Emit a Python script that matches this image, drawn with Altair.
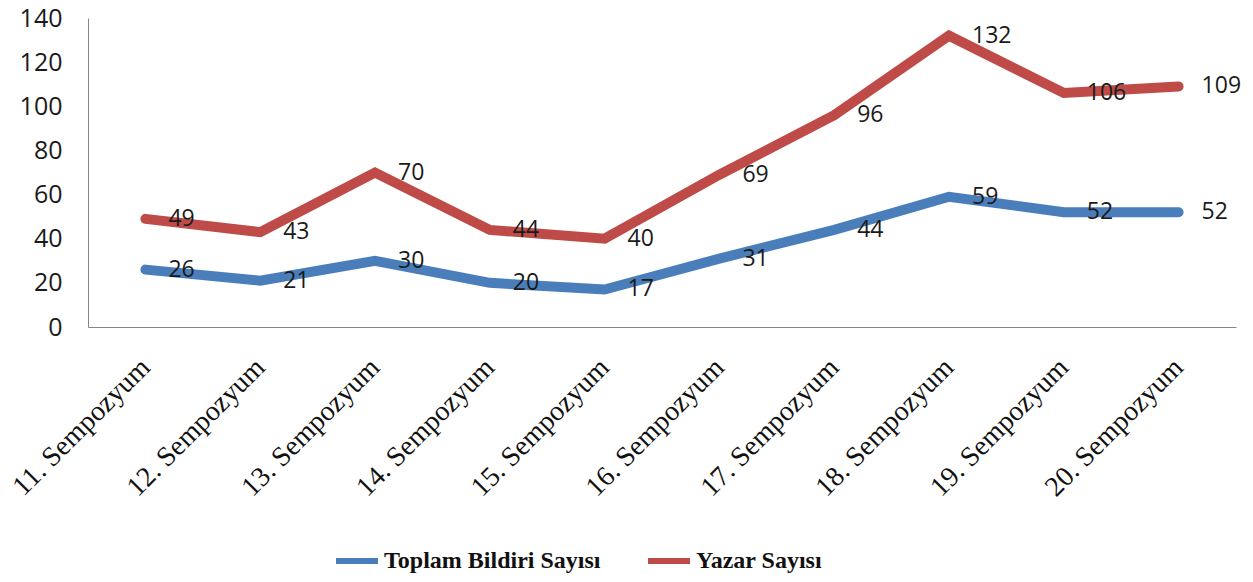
import altair as alt
import pandas as pd

categories = ["11. Sempozyum", "12. Sempozyum", "13. Sempozyum", "14. Sempozyum",
              "15. Sempozyum", "16. Sempozyum", "17. Sempozyum", "18. Sempozyum",
              "19. Sempozyum", "20. Sempozyum"]
bildiri = [26, 21, 30, 20, 17, 31, 44, 59, 52, 52]
yazar = [49, 43, 70, 44, 40, 69, 96, 132, 106, 109]
series_names = ["Toplam Bildiri Sayısı", "Yazar Sayısı"]
colors = ["#4A7EBB", "#BE4B48"]

rows = []
for c, v in zip(categories, bildiri):
    rows.append({"cat": c, "value": v, "series": series_names[0]})
for c, v in zip(categories, yazar):
    rows.append({"cat": c, "value": v, "series": series_names[1]})
df = pd.DataFrame(rows)

x = alt.X("cat:N", sort=categories, title=None,
          scale=alt.Scale(paddingInner=0, paddingOuter=0.5),
          axis=alt.Axis(labelAngle=-45, labelAlign="right", labelBaseline="middle",
                        labelPadding=36, ticks=False, domainColor="#868686",
                        labelFont="Liberation Serif", labelFontSize=28,
                        labelColor="#111111", labelLimit=400))
y = alt.Y("value:Q", title=None,
          scale=alt.Scale(domain=[0, 140], nice=False),
          axis=alt.Axis(values=list(range(0, 141, 20)), grid=False, ticks=False,
                        domainColor="#868686", labelFont="Open Sans", labelFontSize=25,
                        labelColor="#1a1a1a", labelPadding=26))
color = alt.Color("series:N", sort=series_names,
                  scale=alt.Scale(domain=series_names, range=colors),
                  legend=alt.Legend(title=None, orient="none", legendX=245, legendY=519,
                                    direction="horizontal", symbolType="stroke",
                                    symbolSize=1764, symbolStrokeWidth=6,
                                    labelFont="Liberation Serif", labelFontWeight="bold",
                                    labelFontSize=24, labelColor="#111111",
                                    labelOffset=3, columnPadding=35, labelLimit=400))

lines = alt.Chart(df).mark_line(strokeWidth=10, strokeCap="round").encode(
    x=x, y=y, color=color, detail="series:N")
labels = alt.Chart(df).mark_text(align="left", baseline="middle", dx=23,
                                 font="Open Sans", fontSize=23, color="#1a1a1a").encode(
    x=alt.X("cat:N", sort=categories), y="value:Q", text="value:Q")

chart = alt.layer(lines, labels).properties(
    width=1148, height=309, background="white",
    autosize=alt.AutoSizeParams(type="none"),
    padding={"left": 80, "top": 10, "right": 8, "bottom": 247}
).configure_view(stroke=None)

chart.save("out.html", embed_options={"renderer": "svg", "actions": False})
